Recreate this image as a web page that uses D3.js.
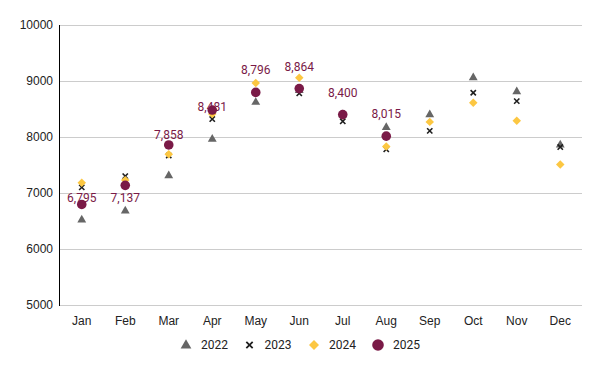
<!DOCTYPE html>
<html><head><meta charset="utf-8">
<script src="https://cdn.jsdelivr.net/npm/d3@7"></script>
<style>body{margin:0;background:#fff}svg{display:block}</style>
</head><body>
<svg id="c" width="600" height="371"></svg>
<script>
const months = ["Jan","Feb","Mar","Apr","May","Jun","Jul","Aug","Sep","Oct","Nov","Dec"];
const s2022 = [6520,6680,7310,7960,8620,8830,8400,8170,8400,9060,8810,7860];
const s2023 = [7100,7300,7670,8320,8790,8780,8280,7780,8110,8790,8640,7820];
const s2024 = [7185,7230,7690,8410,8964,9060,8390,7830,8270,8610,8290,7510];
const s2025 = [6795,7137,7858,8481,8796,8864,8400,8015,null,null,null,null];
const yTicks = [5000,6000,7000,8000,9000,10000];
const seriesNames = ["2022","2023","2024","2025"];
// label vertical placement relative to default (above the point)
const labelShift = [16,35,12,18.7,0,0,0,0];

const svg = d3.select("#c");
const x = d3.scaleBand().domain(months).range([60,582]);
const y = d3.scaleLinear().domain([5000,10000]).range([305,25]);
const cx = m => x(m) + x.bandwidth()/2;

const colors = {"2022":"#666666","2023":"#1f1f1f","2024":"#fcc742","2025":"#7a1a47"};

svg.append("g").selectAll("line").data(yTicks).join("line")
  .attr("x1",60).attr("x2",582).attr("y1",d=>y(d)+0.5).attr("y2",d=>y(d)+0.5)
  .attr("stroke","#cccccc").attr("stroke-width",1);
svg.append("line").attr("x1",59.5).attr("x2",59.5).attr("y1",y(10000)).attr("y2",y(5000)+1)
  .attr("stroke","#000").attr("stroke-width",1);
svg.append("g").selectAll("text").data(yTicks).join("text")
  .attr("x",53).attr("y",d=>y(d)).attr("dy","0.35em").attr("text-anchor","end")
  .attr("font-family","'Liberation Sans', Arial, sans-serif").attr("font-size",12).attr("fill","#222")
  .text(d=>d);
svg.append("g").selectAll("text").data(months).join("text")
  .attr("x",d=>cx(d)).attr("y",321).attr("dy","0.35em").attr("text-anchor","middle")
  .attr("font-family","'Liberation Sans', Arial, sans-serif").attr("font-size",12).attr("fill","#222")
  .text(d=>d);

const tri = d3.symbol().type(d3.symbolTriangle);
const cross = d3.symbol().type(d3.symbolX);
const diamond = d3.symbol().type(d3.symbolSquare);

const pts = svg.append("g");
pts.append("g").selectAll("path").data(s2022).join("path")
  .attr("d", tri.size(34)())
  .attr("transform",(d,i)=>`translate(${cx(months[i])},${y(d)})`)
  .attr("fill",colors["2022"]);
pts.append("g").selectAll("path").data(s2023).join("path")
  .attr("d", cross.size(20)())
  .attr("transform",(d,i)=>`translate(${cx(months[i])},${y(d)})`)
  .attr("fill","none").attr("stroke",colors["2023"]).attr("stroke-width",1.6);
pts.append("g").selectAll("path").data(s2024).join("path")
  .attr("d", diamond.size(36)())
  .attr("transform",(d,i)=>`translate(${cx(months[i])},${y(d)}) rotate(45)`)
  .attr("fill",colors["2024"]);
pts.append("g").selectAll("circle").data(s2025.map((v,i)=>({v,i})).filter(d=>d.v!=null)).join("circle")
  .attr("cx",d=>cx(months[d.i])).attr("cy",d=>y(d.v)).attr("r",4.8).attr("fill",colors["2025"]);

svg.append("g").selectAll("text").data(s2025.map((v,i)=>({v,i})).filter(d=>d.v!=null)).join("text")
  .attr("x",d=>cx(months[d.i])).attr("y",d=>y(d.v)-18+labelShift[d.i])
  .attr("text-anchor","middle").attr("font-family","Roboto, sans-serif").attr("font-size",12)
  .attr("fill",colors["2025"]).text(d=>d3.format(",")(d.v));

const leg = svg.append("g");
const legX = [186,249.5,314,378];
seriesNames.forEach((n,i)=>{
  const g = leg.append("g").attr("transform",`translate(${legX[i]},345)`);
  if(i===0) g.append("path").attr("d",tri.size(50)()).attr("fill",colors[n]).attr("transform","translate(0,0.5)");
  if(i===1) g.append("path").attr("d",cross.size(28)()).attr("fill","none").attr("stroke",colors[n]).attr("stroke-width",1.8);
  if(i===2) g.append("path").attr("d",diamond.size(50)()).attr("fill",colors[n]).attr("transform","rotate(45)");
  if(i===3) g.append("circle").attr("r",5.8).attr("fill",colors[n]);
  g.append("text").attr("x",15).attr("dy","0.35em").attr("font-family","Roboto, sans-serif")
   .attr("font-size",12).attr("fill","#222").text(n);
});
</script>
</body></html>
